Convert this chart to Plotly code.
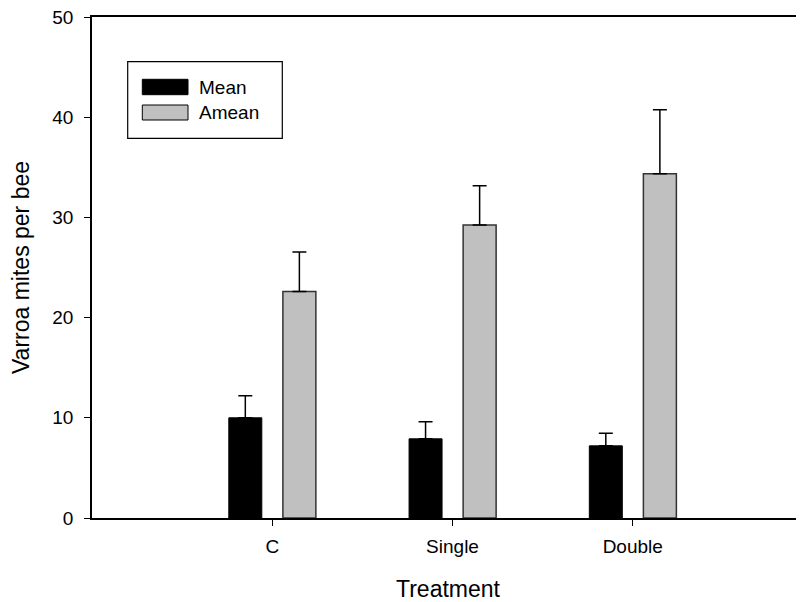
import plotly.graph_objects as go

categories = ["C", "Single", "Double"]
mean_vals = [10.0, 7.9, 7.2]
mean_err = [2.2, 1.7, 1.25]
amean_vals = [22.6, 29.25, 34.35]
amean_err = [3.95, 3.9, 6.4]
y_ticks = [0, 10, 20, 30, 40, 50]

# page body has an 8px margin, so the figure is sized/offset to compensate
OFF = 8
W, H = 804 - OFF, 602 - OFF
ML, MR, MT, MB = 92 - OFF, 0, 17 - OFF, 84
FONT = "Liberation Sans, Arial, sans-serif"

xs = list(range(len(categories)))

fig = go.Figure()
fig.add_trace(go.Bar(
    x=xs, y=mean_vals, name="Mean", width=0.183, offset=-0.241,
    marker=dict(color="black", line=dict(color="black", width=1)),
    error_y=dict(type="data", array=mean_err, arrayminus=[0] * 3, symmetric=False,
                 color="black", thickness=1.5, width=7),
    showlegend=False,
))
fig.add_trace(go.Bar(
    x=xs, y=amean_vals, name="Amean", width=0.183, offset=0.059,
    marker=dict(color="#c0c0c0", line=dict(color="#333333", width=1.5)),
    error_y=dict(type="data", array=amean_err, arrayminus=[0] * 3, symmetric=False,
                 color="black", thickness=1.5, width=7),
    showlegend=False,
))

pw = W - ML - MR
ph = H - MT - MB


def px(x):
    return (x - OFF - ML) / pw


def py(y):
    return (H - MB - (y - OFF)) / ph


shapes = [
    dict(type="rect", xref="paper", yref="paper", x0=px(127.7), x1=px(282.3),
         y0=py(138.3), y1=py(61.7), line=dict(color="black", width=1.2), fillcolor="white"),
    dict(type="rect", xref="paper", yref="paper", x0=px(142.3), x1=px(188),
         y0=py(94.7), y1=py(79.3), line=dict(color="black", width=1), fillcolor="black"),
    dict(type="rect", xref="paper", yref="paper", x0=px(142.3), x1=px(188),
         y0=py(120), y1=py(105), line=dict(color="black", width=1), fillcolor="#c0c0c0"),
]
annotations = [
    dict(xref="paper", yref="paper", x=px(197), y=py(87), text="Mean", showarrow=False,
         xanchor="left", yanchor="middle", font=dict(size=19, color="black", family=FONT)),
    dict(xref="paper", yref="paper", x=px(197), y=py(112.5), text="Amean", showarrow=False,
         xanchor="left", yanchor="middle", font=dict(size=19, color="black", family=FONT)),
]

fig.update_layout(
    width=W, height=H,
    margin=dict(l=ML, r=MR, t=MT, b=MB, pad=0),
    paper_bgcolor="white", plot_bgcolor="white",
    font=dict(family=FONT, color="black", size=19),
    shapes=shapes, annotations=annotations,
    barmode="overlay",
    xaxis=dict(
        range=[-1.0, 2.95], tickmode="array", tickvals=xs, ticktext=categories,
        showline=True, linecolor="black", linewidth=1.5, mirror=True,
        ticks="outside", ticklen=6, tickwidth=1.2, tickcolor="black",
        showgrid=False, zeroline=False, ticklabelstandoff=4,
        title=dict(text="Treatment", font=dict(size=23), standoff=26),
        tickfont=dict(size=19),
    ),
    yaxis=dict(
        range=[0, 50], tickmode="array", tickvals=y_ticks,
        showline=True, linecolor="black", linewidth=1.5,
        ticks="outside", ticklen=6, tickwidth=1.2, tickcolor="black",
        showgrid=False, zeroline=False, ticklabelstandoff=7,
        ticklabeloverflow="allow",
        title=dict(text="Varroa mites per bee", font=dict(size=23), standoff=18),
        tickfont=dict(size=19),
    ),
)

fig.write_html("out.html")
